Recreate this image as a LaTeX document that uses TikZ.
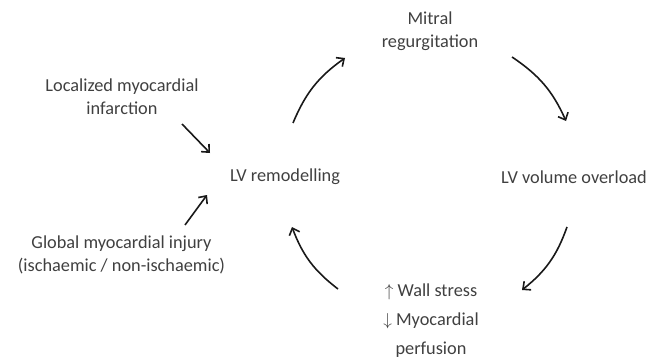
\documentclass[tikz,border=0pt]{standalone}
\usepackage{fontspec}
\setmainfont{Carlito}
\usetikzlibrary{arrows.meta}
\definecolor{txt}{HTML}{404040}
\tikzset{
  lbl/.style={text=txt, font=\fontsize{18.3pt}{23pt}\selectfont, align=center, inner sep=0pt},
  conn/.style={line width=1.6pt, draw=black!90, -{Straight Barb[length=6pt,width=11pt,line width=1.6pt]}},
}
\begin{document}
\begin{tikzpicture}[x=1pt,y=-1pt]
\useasboundingbox (0,0) rectangle (651,361);
\node[lbl] (mitral) at (430,31.5) {Mitral\\regurgitation};
\node[lbl] (remod) at (285,177) {LV remodelling};
\node[lbl] (vol) at (574,177) {LV volume overload};
\node[lbl] (infarct) at (122,96.5) {Localized myocardial\\infarction};
\node[lbl] (global) at (121.5,255) {Global myocardial injury\\(ischaemic / non-ischaemic)};
\node[lbl, font=\fontsize{18.3pt}{29pt}\selectfont] (wall) at (431,321) {$\uparrow$ Wall stress\\$\downarrow$ Myocardial\\perfusion};
% arrow end points
\coordinate (a1s) at (293,123); \coordinate (a1e) at (345,58);
\coordinate (a2s) at (512,57);  \coordinate (a2e) at (566,121);
\coordinate (a3s) at (567,227); \coordinate (a3e) at (522,290);
\coordinate (a4s) at (338,289); \coordinate (a4e) at (292,227);
\coordinate (s1s) at (182,124); \coordinate (s1e) at (210,153);
\coordinate (s2s) at (185,225); \coordinate (s2e) at (207,195);
\draw[conn] (a1s) to[bend left=16] (a1e);
\draw[conn] (a2s) to[bend left=16] (a2e);
\draw[conn] (a3s) to[bend left=16] (a3e);
\draw[conn] (a4s) to[bend left=16] (a4e);
\draw[conn] (s1s) -- (s1e);
\draw[conn] (s2s) -- (s2e);
\end{tikzpicture}
\end{document}
